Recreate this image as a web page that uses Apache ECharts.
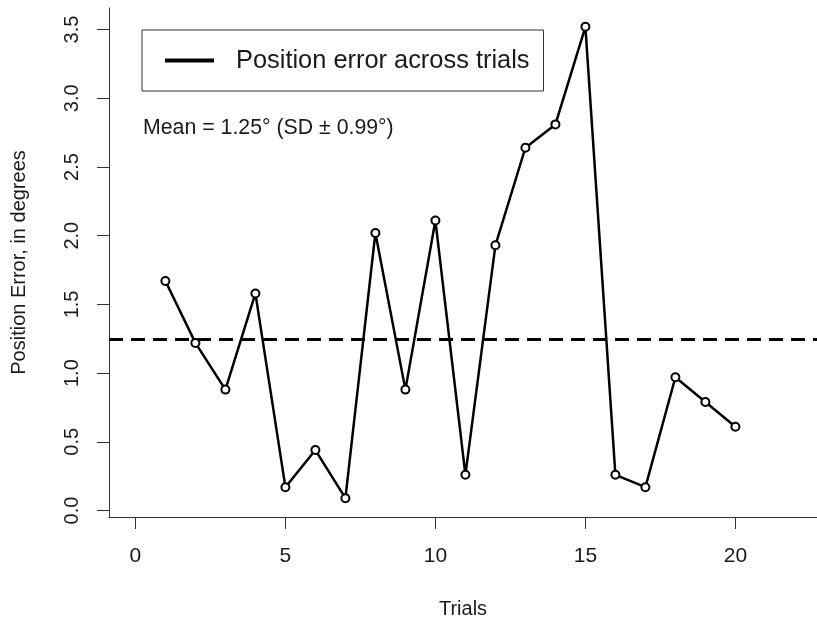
<!DOCTYPE html>
<html>
<head>
<meta charset="utf-8">
<script src="https://cdn.jsdelivr.net/npm/echarts@6/dist/echarts.min.js"></script>
<style>
html,body{margin:0;padding:0;background:#fff;}
#c{width:817px;height:622px;}
</style>
</head>
<body>
<div id="c"></div>
<script>
// Data
const trials = [1,2,3,4,5,6,7,8,9,10,11,12,13,14,15,16,17,18,19,20];
const positionError = [1.67,1.22,0.88,1.58,0.17,0.44,0.09,2.02,0.88,2.11,0.26,1.93,2.64,2.81,3.52,0.26,0.17,0.97,0.79,0.61];
const meanError = 1.25;
const xTicks = [0,5,10,15,20];
const yTicks = [0,0.5,1,1.5,2,2.5,3,3.5];
const seriesName = 'Position error across trials';
const meanText = 'Mean = 1.25\u00B0 (SD \u00B1 0.99\u00B0)';

const FONT = 'Liberation Sans, Arial, sans-serif';
const chart = echarts.init(document.getElementById('c'), null, {renderer:'canvas'});
chart.setOption({
  animation:false,
  backgroundColor:'#ffffff',
  title:{
    text: meanText,
    left: 138, top: 113,
    textStyle:{fontFamily:FONT, fontSize:21.3, fontWeight:'normal', color:'#1a1a1a'}
  },
  legend:{
    left:142, top:30,
    orient:'horizontal',
    data:[{name:seriesName, icon:'rect'}],
    itemWidth:47, itemHeight:2.2,
    itemStyle:{color:'#000'},
    padding:[18,14,18,23],
    borderColor:'#333', borderWidth:1,
    textStyle:{fontFamily:FONT, fontSize:25.4, color:'#1a1a1a', padding:[0,0,0,18]}
  },
  grid:{left:109, top:8, right:0, bottom:105, outerBoundsMode:'none'},
  xAxis:{
    type:'value', min:-0.88, max:22.72,
    name:'Trials', nameLocation:'middle', nameGap:82,
    nameTextStyle:{fontFamily:FONT, fontSize:20, color:'#1a1a1a'},
    axisLine:{show:true, onZero:false, lineStyle:{color:'#333', width:1}},
    axisTick:{show:true, length:12, customValues:xTicks, lineStyle:{color:'#333', width:1}},
    axisLabel:{customValues:xTicks, margin:29, fontFamily:FONT, fontSize:21, color:'#1a1a1a'},
    splitLine:{show:false}
  },
  yAxis:{
    type:'value', min:-0.047, max:3.657,
    name:'Position Error, in degrees', nameLocation:'middle', nameGap:80, nameRotate:90,
    nameTextStyle:{fontFamily:FONT, fontSize:20, color:'#1a1a1a'},
    axisLine:{show:true, onZero:false, lineStyle:{color:'#333', width:1}},
    axisTick:{show:true, length:12, customValues:yTicks, lineStyle:{color:'#333', width:1}},
    axisLabel:{customValues:yTicks, rotate:90, margin:27, fontFamily:FONT, fontSize:20, color:'#1a1a1a',
      formatter:(v)=>Number(v).toFixed(1)},
    splitLine:{show:false}
  },
  series:[{
    name:seriesName,
    type:'line',
    data: trials.map((t,i)=>[t, positionError[i]]),
    symbol:'emptyCircle', symbolSize:8,
    lineStyle:{color:'#000', width:2.5},
    itemStyle:{color:'#000', borderColor:'#000', borderWidth:2},
    markLine:{
      silent:true, symbol:'none',
      label:{show:false},
      lineStyle:{color:'#000', width:3, type:[14,8]},
      data:[{yAxis: meanError}]
    }
  }]
});
</script>
</body>
</html>
